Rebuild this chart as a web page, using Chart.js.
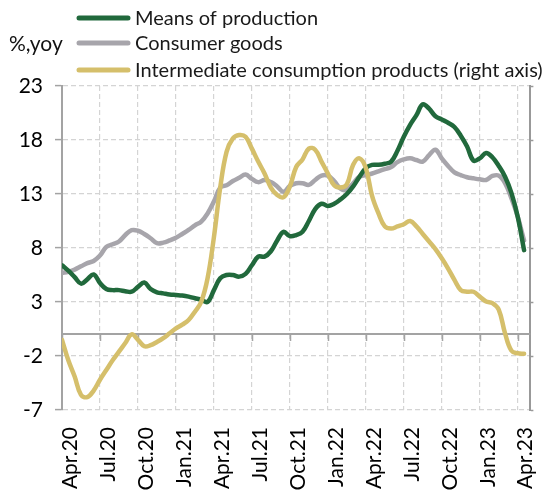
<!DOCTYPE html>
<html><head><meta charset="utf-8">
<script src="https://cdn.jsdelivr.net/npm/chart.js@4.4.1/dist/chart.umd.min.js"></script>
<style>html,body{margin:0;padding:0;background:#fff;overflow:hidden}</style>
</head><body>
<canvas id="c" width="560" height="491"></canvas>
<script>
// month offsets from Apr.2020 (half-month resolution)
const months = [0,0.5,1,1.5,2,2.5,3,3.5,4,4.5,5,5.5,6,6.5,7,7.5,8,8.5,9,9.5,10,10.5,11,11.5,12,12.5,13,13.5,14,14.5,15,15.5,16,16.5,17,17.5,18,18.5,19,19.5,20,20.5,21,21.5,22,22.5,23,23.5,24,24.5,25,25.5,26,26.5,27,27.5,28,28.5,29,29.5,30,30.5,31,31.5,32,32.5,33,33.5,34,34.5,35,35.5,36,36.5];
const tickLabels = ['Apr.20','Jul.20','Oct.20','Jan.21','Apr.21','Jul.21','Oct.21','Jan.22','Apr.22','Jul.22','Oct.22','Jan.23','Apr.23'];
const seriesNames = ['Means of production','Consumer goods','Intermediate consumption products (right axis)'];
const unitLabel = '%,yoy';

const meansOfProduction = [6.4,5.9,5.3,4.7,5.1,5.55,4.75,4.2,4.1,4.1,4.0,3.95,4.4,4.8,4.2,3.9,3.8,3.7,3.65,3.6,3.5,3.35,3.2,3.0,4.1,5.2,5.5,5.5,5.35,5.6,6.4,7.2,7.2,7.7,8.7,9.5,9.1,9.2,9.5,10.5,11.6,12.1,11.9,12.1,12.5,13.0,13.7,14.6,15.4,15.7,15.7,15.8,16.0,17.0,18.3,19.4,20.3,21.3,20.9,20.2,19.9,19.6,19.2,18.4,17.4,16.1,16.3,16.8,16.4,15.6,14.6,13.1,10.9,7.8];
const consumerGoods = [5.7,5.8,6.0,6.3,6.6,6.8,7.3,8.1,8.35,8.6,9.2,9.65,9.6,9.3,8.9,8.45,8.5,8.7,8.95,9.3,9.67,10.1,10.45,11.2,12.3,13.6,13.8,14.2,14.5,14.8,14.4,14.1,14.3,14.1,13.7,13.2,13.75,14.0,14.0,13.85,14.3,14.7,14.7,14.2,13.5,13.4,14.0,14.6,14.76,14.9,15.1,15.3,15.5,15.95,16.2,16.3,16.15,16.0,16.6,17.1,16.3,15.6,15.0,14.75,14.55,14.45,14.36,14.3,14.67,14.7,14.0,12.6,10.9,8.7];
const intermediateProducts = [-0.5,-2.4,-3.9,-5.6,-5.8,-5.2,-4.2,-3.3,-2.4,-1.6,-0.8,0.0,-0.5,-1.1,-1.0,-0.7,-0.35,0.1,0.55,0.9,1.33,2.1,3.03,5.2,9.0,13.6,16.9,18.15,18.46,18.3,17.2,16.0,14.9,13.6,12.9,12.7,13.7,15.5,16.2,17.2,17.1,16.0,14.9,13.8,13.6,13.9,15.7,16.3,15.4,12.8,11.2,10.0,9.8,10.0,10.2,10.5,10.0,9.3,8.6,7.9,7.05,6.1,5.04,4.1,3.95,3.95,3.5,3.05,2.9,2.3,0.1,-1.5,-1.75,-1.8];

const colors = ['#21693c', '#a7a5ab', '#d5bf6b'];
const FONT = 'Lato';

function pts(vals){ return months.map((m,i)=>({x:m, y:vals[i]})); }

const extras = {
  id: 'extras',
  beforeDatasetsDraw(chart){
    const {ctx, chartArea} = chart;
    const x = chart.scales.x, y = chart.scales.y;
    const y0 = Math.round(y.getPixelForValue(0));
    ctx.save();
    ctx.strokeStyle = '#a3a3a3';
    ctx.lineWidth = 2;
    ctx.beginPath();
    ctx.moveTo(chartArea.left, y0);
    ctx.lineTo(chartArea.right, y0);
    ctx.stroke();
    ctx.lineWidth = 1.5;
    x.ticks.forEach(t => {
      const px = Math.round(x.getPixelForValue(t.value)) + 0.5;
      ctx.beginPath();
      ctx.moveTo(px, y0);
      ctx.lineTo(px, y0 + 7);
      ctx.stroke();
    });
    ctx.restore();
  },
  afterDraw(chart){
    const ctx = chart.ctx;
    ctx.save();
    const rows = [18, 43, 70];
    ctx.font = '20px ' + FONT;
    ctx.textBaseline = 'middle';
    ctx.textAlign = 'left';
    chart.data.datasets.forEach((ds, i) => {
      ctx.strokeStyle = ds.borderColor;
      ctx.lineWidth = 5;
      ctx.lineCap = 'round';
      ctx.beginPath();
      ctx.moveTo(79, rows[i]);
      ctx.lineTo(128, rows[i]);
      ctx.stroke();
      ctx.fillStyle = '#1a1a1a';
      ctx.fillText(ds.label, 135, rows[i] + 1);
    });
    ctx.font = '21px ' + FONT;
    ctx.fillStyle = '#111';
    ctx.fillText(unitLabel, 9, 44);
    ctx.restore();
  }
};

function draw(){
  Chart.defaults.font.family = FONT;
  new Chart(document.getElementById('c'), {
    type: 'line',
    data: {
      datasets: [
        {label: seriesNames[0], data: pts(meansOfProduction), borderColor: colors[0], yAxisID: 'y', order: 1},
        {label: seriesNames[1], data: pts(consumerGoods), borderColor: colors[1], yAxisID: 'y', order: 2},
        {label: seriesNames[2], data: pts(intermediateProducts), borderColor: colors[2], yAxisID: 'y1', order: 0}
      ]
    },
    options: {
      responsive: false,
      animation: false,
      layout: {padding: {left: 0, top: 86, right: 0, bottom: 0}},
      elements: {
        line: {borderWidth: 4.5, tension: 0.4, borderCapStyle: 'round', borderJoinStyle: 'round', fill: false},
        point: {radius: 0, hoverRadius: 0}
      },
      plugins: {legend: {display: false}, tooltip: {enabled: false}},
      scales: {
        x: {
          type: 'linear', min: 0, max: 37,
          afterFit(s){ s.height = 81; },
          grid: {color: '#d4d4d4', lineWidth: 1.2, drawTicks: false},
          border: {display: false, dash: [5, 3]},
          ticks: {
            stepSize: 3, includeBounds: false, autoSkip: false,
            minRotation: 90, maxRotation: 90, padding: 17, labelOffset: 8,
            color: '#000', font: {size: 21, family: FONT},
            callback: v => tickLabels[Math.round(v / 3)]
          }
        },
        y: {
          position: 'left', min: -7, max: 23,
          afterFit(s){ s.width = 62; },
          grid: {color: '#d4d4d4', lineWidth: 1.2, tickLength: 7, tickColor: '#a3a3a3', tickWidth: 1.5},
          border: {display: true, color: '#a3a3a3', width: 2, dash: [5, 3]},
          ticks: {stepSize: 5, padding: 12, color: '#000', font: {size: 21, family: FONT}}
        },
        y1: {
          position: 'right', min: -7, max: 23,
          grid: {drawOnChartArea: false, tickLength: 3, tickColor: '#999', tickWidth: 1.5},
          border: {display: true, color: '#999', width: 2},
          ticks: {stepSize: 5, display: false}
        }
      }
    },
    plugins: [extras]
  });
}
if (document.fonts && document.fonts.load) {
  Promise.all([document.fonts.load('21px Lato'), document.fonts.load('20px Lato')]).then(draw, draw);
} else { draw(); }
</script>
</body></html>
